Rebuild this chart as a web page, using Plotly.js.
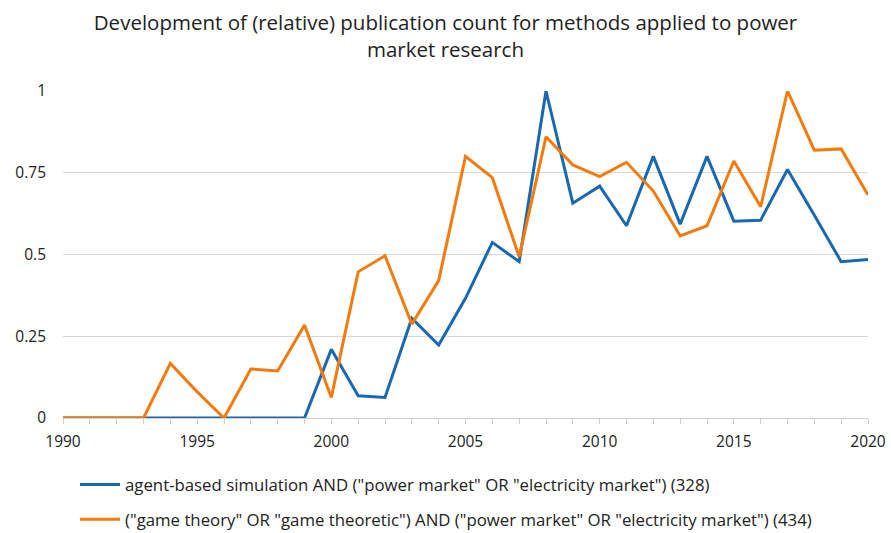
<!DOCTYPE html>
<html>
<head>
<meta charset="utf-8">
<script src="https://cdn.plot.ly/plotly-3.0.1.min.js"></script>
<style>html,body{margin:0;padding:0;background:#fff;}#chart{width:891px;height:533px;}</style>
</head>
<body>
<div id="chart"></div>
<script>
const years = [1990,1991,1992,1993,1994,1995,1996,1997,1998,1999,2000,2001,2002,2003,2004,2005,2006,2007,2008,2009,2010,2011,2012,2013,2014,2015,2016,2017,2018,2019,2020];
const agentBased = [0,0,0,0,0,0,0,0,0,0,0.21,0.068,0.063,0.305,0.223,0.366,0.537,0.478,1.0,0.657,0.709,0.588,0.80,0.593,0.80,0.602,0.605,0.76,0.62,0.478,0.485];
const gameTheory = [0,0,0,0,0.167,0.08,0,0.15,0.144,0.284,0.063,0.447,0.496,0.287,0.42,0.80,0.735,0.493,0.86,0.774,0.738,0.782,0.694,0.557,0.588,0.786,0.646,1.0,0.819,0.823,0.682];
const seriesNames = [
  'agent-based simulation AND ("power market" OR "electricity market") (328)',
  '("game theory" OR "game theoretic") AND ("power market" OR "electricity market") (434)'
];
const yTicks = [0,0.25,0.5,0.75,1];
const yTickText = ['0','0.25','0.5','0.75','1'];
const titleText = 'Development of (relative) publication count for methods applied to power<br>market research';

const FONT = '"Open Sans", "Noto Sans", sans-serif';
const traces = [
  {x: years, y: agentBased, name: seriesNames[0], type: 'scatter', mode: 'lines', legendgroup: 'a',
   line: {color: '#1868B2', width: 3}},
  {x: years, y: gameTheory, name: seriesNames[1], type: 'scatter', mode: 'lines', legendgroup: 'b',
   line: {color: '#F27B0C', width: 3}}
];
const layout = {
  width: 891, height: 533,
  margin: {l: 63, r: 23, t: 91, b: 115, autoexpand: false},
  paper_bgcolor: '#fff', plot_bgcolor: '#fff',
  font: {family: FONT, color: '#222', size: 15},
  title: {text: titleText, x: 0.5, xref: 'container', xanchor: 'center', y: 1 - 30/533, yref: 'container', yanchor: 'middle',
          font: {family: FONT, size: 20.5, color: '#222'}},
  xaxis: {range: [1990, 2020], tickmode: 'linear', tick0: 1990, dtick: 5, showgrid: false, zeroline: false,
          showline: true, linecolor: '#d0d0d0', linewidth: 1, ticks: 'outside', ticklen: 5, tickcolor: '#d0d0d0',
          minor: {dtick: 1, tick0: 1990, ticks: 'outside', ticklen: 5, tickcolor: '#d0d0d0', showgrid: false},
          ticklabelstandoff: 4, automargin: false,
          tickfont: {family: FONT, size: 15.5, color: '#222'}},
  yaxis: {range: [0, 1], tickvals: yTicks, ticktext: yTickText, showgrid: true, gridcolor: '#d9d9d9', gridwidth: 1,
          zeroline: false, showline: false, ticks: '', ticklabelstandoff: 16, automargin: false,
          tickfont: {family: FONT, size: 15.5, color: '#222'}},
  showlegend: true,
  legend: {orientation: 'v', x: 0.0149, xanchor: 'left', y: -0.15, yanchor: 'top', itemwidth: 40,
           traceorder: 'grouped', tracegroupgap: 10, font: {family: FONT, size: 16.8, color: '#222'}, bgcolor: 'rgba(0,0,0,0)'}
};
Plotly.newPlot('chart', traces, layout, {displayModeBar: false, staticPlot: true});
</script>
</body>
</html>
